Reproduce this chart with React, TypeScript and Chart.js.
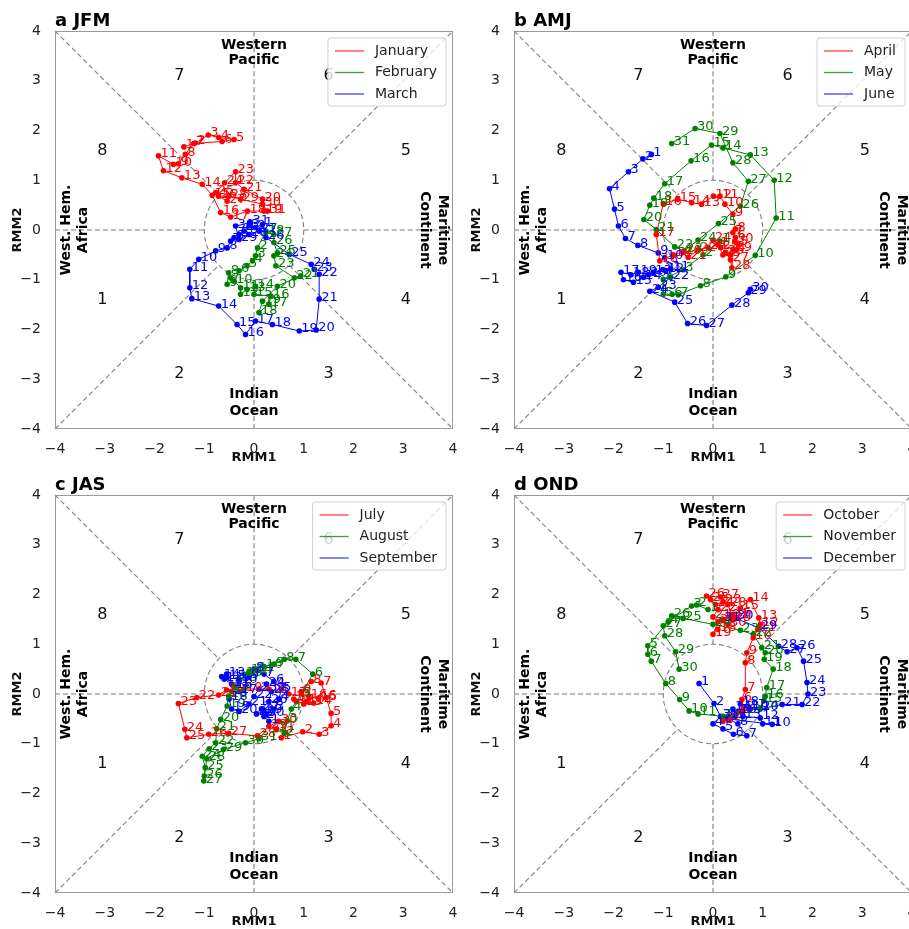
import React, { useEffect, useRef } from 'react';
import { Chart, registerables } from 'chart.js';
Chart.register(...registerables);

type P = [number, number];

const TICKS = [-4, -3, -2, -1, 0, 1, 2, 3, 4];
const TITLES = ['a JFM', 'b AMJ', 'c JAS', 'd OND'];
const MONTHS = [
  ['January', 'February', 'March'],
  ['April', 'May', 'June'],
  ['July', 'August', 'September'],
  ['October', 'November', 'December'],
];
const COLORS = ['#ff0000', '#008000', '#0000ff'];
const LEGEND_COLORS = ['rgba(255,0,0,0.75)', 'rgba(0,128,0,0.75)', 'rgba(0,0,255,0.75)'];
const PHASES = ['1', '2', '3', '4', '5', '6', '7', '8'];

// RMM1, RMM2 per day
const JAN: P[] = [[-1.41,1.67],[-1.18,1.75],[-0.92,1.91],[-0.71,1.86],[-0.40,1.82],[-0.64,1.78],[-1.21,1.74],[-1.38,1.52],[-1.52,1.33],[-1.62,1.32],[-1.92,1.49],[-1.82,1.19],[-1.45,1.05],[-1.04,0.92],[-0.84,0.70],[-0.67,0.35],[-0.47,0.26],[-0.13,0.38],[0.20,0.38],[0.17,0.62],[-0.20,0.82],[-0.37,0.95],[-0.37,1.17],[-0.59,0.95],[-0.77,0.75],[-0.71,0.68],[-0.54,0.58],[-0.51,0.68],[-0.27,0.62],[0.17,0.52],[0.27,0.38]];
const FEB: P[] = [[0.24,-0.02],[0.07,-0.36],[0.03,-0.52],[-0.03,-0.62],[-0.14,-0.72],[-0.30,-0.82],[-0.47,-0.96],[-0.51,-0.86],[-0.54,-1.09],[-0.40,-1.03],[-0.27,-1.16],[-0.27,-1.29],[-0.14,-1.19],[0.03,-1.13],[0.00,-1.29],[0.34,-1.33],[0.30,-1.49],[0.10,-1.66],[0.17,-1.43],[0.47,-1.13],[0.94,-0.92],[0.81,-0.96],[0.44,-0.72],[0.40,-0.52],[0.47,-0.46],[0.40,-0.25],[0.40,-0.09],[0.24,-0.05]];
const MAR: P[] = [[0.17,0.11],[0.03,0.05],[-0.10,0.08],[-0.20,-0.02],[-0.30,-0.09],[-0.40,-0.15],[-0.47,-0.22],[-0.54,-0.36],[-0.77,-0.42],[-1.11,-0.59],[-1.29,-0.79],[-1.29,-1.16],[-1.25,-1.38],[-0.71,-1.53],[-0.34,-1.90],[-0.17,-2.10],[0.03,-1.83],[0.37,-1.90],[0.91,-2.03],[1.25,-2.01],[1.31,-1.39],[1.31,-0.89],[1.21,-0.79],[1.15,-0.69],[0.71,-0.49],[0.24,-0.15],[0.10,-0.02],[-0.10,-0.09],[-0.30,-0.19],[-0.37,0.08],[-0.07,0.15]];

const APR: P[] = [[0.10,-0.30],[0.20,-0.50],[0.35,-0.50],[0.45,-0.40],[0.50,-0.28],[0.45,-0.15],[0.40,-0.05],[0.45,0.02],[0.40,0.32],[0.24,0.52],[0.14,0.68],[0.01,0.68],[-0.23,0.52],[-0.43,0.55],[-0.71,0.62],[-1.00,0.53],[-1.14,-0.09],[-1.07,-0.62],[-0.80,-0.50],[-0.60,-0.45],[-0.50,-0.55],[-0.30,-0.40],[-0.10,-0.35],[0.00,-0.20],[0.15,-0.35],[0.25,-0.45],[0.35,-0.60],[0.38,-0.76],[0.41,-0.39],[0.44,-0.22]];
const MAY: P[] = [[0.14,-0.22],[-0.20,-0.50],[-0.60,-0.80],[-1.00,-0.99],[-1.00,-1.29],[-0.82,-1.29],[-0.70,-1.30],[-0.25,-1.12],[0.26,-0.94],[0.85,-0.51],[1.27,0.24],[1.23,1.00],[0.75,1.51],[0.20,1.65],[-0.03,1.71],[-0.44,1.39],[-0.97,0.93],[-1.19,0.64],[-1.27,0.50],[-1.39,0.21],[-1.14,0.01],[-0.77,-0.34],[-0.58,-0.42],[-0.30,-0.20],[0.11,0.13],[0.55,0.48],[0.71,0.98],[0.40,1.35],[0.14,1.94],[-0.36,2.04],[-0.83,1.74]];
const JUN: P[] = [[-1.24,1.52],[-1.41,1.43],[-1.70,1.17],[-2.08,0.83],[-1.98,0.42],[-1.90,0.08],[-1.76,-0.17],[-1.51,-0.31],[-1.10,-0.46],[-0.97,-0.56],[-0.85,-0.78],[-0.95,-0.82],[-1.20,-0.85],[-1.40,-0.95],[-1.60,-1.05],[-1.80,-1.00],[-1.85,-0.85],[-1.65,-0.90],[-1.50,-0.85],[-1.30,-0.90],[-1.00,-0.80],[-0.85,-0.95],[-1.10,-1.15],[-1.27,-1.23],[-0.77,-1.45],[-0.51,-1.88],[-0.13,-1.92],[0.38,-1.51],[0.71,-1.26],[0.75,-1.19]];

const JUL: P[] = [[0.55,-0.88],[0.98,-0.76],[1.31,-0.81],[1.55,-0.64],[1.55,-0.39],[1.45,-0.07],[1.35,0.22],[1.15,0.25],[0.95,0.05],[1.05,-0.15],[0.80,-0.10],[0.85,-0.15],[1.00,-0.20],[1.20,-0.18],[1.30,-0.10],[1.10,-0.05],[0.70,0.00],[0.30,0.10],[-0.20,0.10],[-0.55,0.08],[-0.71,-0.02],[-1.15,-0.07],[-1.52,-0.19],[-1.39,-0.71],[-1.35,-0.88],[-0.91,-0.81],[-0.51,-0.79],[0.07,-0.84],[0.30,-0.65],[0.50,-0.55],[0.45,-0.70]];
const AUG: P[] = [[0.45,-0.72],[0.61,-0.79],[0.67,-0.54],[0.75,-0.30],[0.95,0.00],[1.18,0.40],[0.84,0.70],[0.61,0.70],[0.40,0.60],[0.20,0.55],[0.05,0.50],[-0.10,0.45],[-0.20,0.40],[0.00,0.46],[-0.30,0.30],[-0.40,0.15],[-0.45,0.05],[-0.51,-0.04],[-0.54,-0.24],[-0.67,-0.51],[-0.75,-0.70],[-0.77,-0.98],[-0.90,-1.10],[-1.04,-1.25],[-0.98,-1.48],[-1.00,-1.65],[-1.01,-1.75],[-0.95,-1.30],[-0.61,-1.11],[-0.17,-0.98],[0.10,-0.90]];
const SEP: P[] = [[0.30,-0.55],[0.20,-0.45],[0.40,-0.30],[0.50,-0.10],[0.55,0.10],[0.40,0.25],[0.20,0.40],[0.00,0.50],[-0.10,0.35],[-0.30,0.25],[-0.45,0.20],[-0.60,0.30],[-0.55,0.40],[-0.65,0.35],[-0.54,0.33],[-0.40,0.15],[-0.30,0.05],[-0.50,-0.10],[-0.45,-0.30],[-0.30,-0.35],[-0.10,-0.20],[0.00,-0.05],[0.10,0.10],[0.25,0.20],[0.35,0.05],[0.30,-0.15],[0.15,-0.30],[0.05,-0.40],[0.20,-0.35],[0.24,-0.41]];

const OCT: P[] = [[0.20,-0.55],[0.35,-0.50],[0.45,-0.45],[0.55,-0.35],[0.60,-0.30],[0.58,-0.11],[0.65,0.09],[0.65,0.63],[0.68,0.83],[0.81,1.13],[0.90,1.30],[0.95,1.40],[0.92,1.53],[0.75,1.90],[0.55,1.73],[0.40,1.60],[0.20,1.50],[0.10,1.30],[0.00,1.20],[0.10,1.45],[0.00,1.55],[0.10,1.70],[0.20,1.85],[0.05,1.80],[-0.05,1.90],[-0.13,1.97],[0.15,1.95],[0.30,1.80],[0.40,1.50],[0.30,1.40],[0.35,1.55]];
const NOV: P[] = [[-0.10,1.70],[-0.33,1.79],[-0.43,1.77],[-0.90,1.45],[-1.31,0.97],[-1.31,0.80],[-1.24,0.66],[-0.95,0.21],[-0.67,-0.11],[-0.48,-0.34],[-0.30,-0.40],[0.20,-0.45],[0.60,-0.35],[0.95,-0.28],[1.02,-0.14],[1.05,-0.05],[1.08,0.13],[1.21,0.50],[1.03,0.70],[1.05,0.83],[0.98,0.93],[0.81,1.20],[0.55,1.28],[0.00,1.40],[-0.60,1.52],[-0.83,1.57],[-1.00,1.37],[-0.97,1.17],[-0.75,0.85],[-0.68,0.50]];
const DEC: P[] = [[-0.28,0.21],[0.02,-0.19],[0.15,-0.45],[0.00,-0.60],[0.20,-0.70],[0.41,-0.81],[0.68,-0.84],[0.50,-0.60],[0.30,-0.50],[1.19,-0.61],[1.00,-0.60],[0.95,-0.48],[0.60,-0.45],[0.40,-0.30],[0.30,-0.45],[0.50,-0.35],[0.70,-0.25],[0.55,-0.20],[0.75,-0.30],[0.95,-0.30],[1.39,-0.21],[1.79,-0.21],[1.91,0.00],[1.89,0.23],[1.82,0.66],[1.69,0.93],[1.49,0.85],[1.32,0.96],[0.92,1.33],[0.44,1.53],[0.18,1.50]];

const SERIES: P[][][] = [
  [JAN, FEB, MAR],
  [APR, MAY, JUN],
  [JUL, AUG, SEP],
  [OCT, NOV, DEC],
];

const FONT = '"DejaVu Sans", sans-serif';
const fmt = (v: number) => (v < 0 ? '\u2212' + Math.abs(v) : String(v));

function makeBgPlugin() {
  return {
    id: 'mjoBg',
    beforeDatasetsDraw(chart: any) {
      const ctx = chart.ctx;
      const xs = (v: number) => chart.scales.x.getPixelForValue(v);
      const ys = (v: number) => chart.scales.y.getPixelForValue(v);
      ctx.save();
      ctx.strokeStyle = '#7f7f7f';
      ctx.lineWidth = 1.1;
      ctx.setLineDash([5, 3]);
      const r = Math.SQRT1_2;
      const segs: number[][] = [
        [-4, 0, -1, 0], [1, 0, 4, 0], [0, -4, 0, -1], [0, 1, 0, 4],
        [-4, -4, -r, -r], [r, r, 4, 4], [-4, 4, -r, r], [r, -r, 4, -4],
      ];
      for (const s of segs) {
        ctx.beginPath();
        ctx.moveTo(xs(s[0]), ys(s[1]));
        ctx.lineTo(xs(s[2]), ys(s[3]));
        ctx.stroke();
      }
      const cx = xs(0), cy = ys(0);
      const rx = xs(1) - cx, ry = cy - ys(1);
      ctx.beginPath();
      ctx.ellipse(cx, cy, rx, ry, 0, 0, Math.PI * 2);
      ctx.stroke();
      ctx.setLineDash([]);

      // phase numbers
      const pos: P[] = [[-3.05, -1.4], [-1.5, -2.9], [1.5, -2.9], [3.05, -1.4], [3.05, 1.6], [1.5, 3.1], [-1.5, 3.1], [-3.05, 1.6]];
      ctx.fillStyle = '#111';
      ctx.font = `16px ${FONT}`;
      ctx.textAlign = 'center';
      ctx.textBaseline = 'middle';
      PHASES.forEach((t, i) => ctx.fillText(t, xs(pos[i][0]), ys(pos[i][1])));

      // region labels
      ctx.fillStyle = '#000';
      ctx.font = `bold 14px ${FONT}`;
      ctx.fillText('Western', xs(0), ys(3.72));
      ctx.fillText('Pacific', xs(0), ys(3.40));
      ctx.fillText('Indian', xs(0), ys(-3.30));
      ctx.fillText('Ocean', xs(0), ys(-3.64));
      const rot = (t: string, x: number, a: number) => {
        ctx.save();
        ctx.translate(xs(x), ys(0));
        ctx.rotate(a);
        ctx.fillText(t, 0, 0);
        ctx.restore();
      };
      rot('West. Hem.', -3.78, -Math.PI / 2);
      rot('Africa', -3.42, -Math.PI / 2);
      rot('Maritime', 3.80, Math.PI / 2);
      rot('Continent', 3.44, Math.PI / 2);
      ctx.restore();
    },
  };
}

function makeFgPlugin(title: string, names: string[]) {
  return {
    id: 'mjoFg',
    afterDatasetsDraw(chart: any) {
      const ctx = chart.ctx;
      const ca = chart.chartArea;
      ctx.save();
      // day labels
      ctx.font = `13px ${FONT}`;
      ctx.textAlign = 'left';
      ctx.textBaseline = 'alphabetic';
      chart.data.datasets.forEach((ds: any, di: number) => {
        const meta = chart.getDatasetMeta(di);
        ctx.fillStyle = ds.borderColor;
        meta.data.forEach((el: any, i: number) => {
          ctx.fillText(String(i + 1), el.x + 2, el.y + 1.5);
        });
      });
      // frame
      ctx.strokeStyle = '#9a9a9a';
      ctx.lineWidth = 1;
      ctx.strokeRect(Math.round(ca.left) + 0.5, Math.round(ca.top) + 0.5, Math.round(ca.right - ca.left) - 1, Math.round(ca.bottom - ca.top) - 1);
      // legend
      ctx.font = `14px ${FONT}`;
      const tw = Math.max(...names.map((n) => ctx.measureText(n).width));
      const w = 47 + tw + 9;
      const h = 68;
      const left = ca.right - 7 - w;
      const top = ca.top + 7;
      ctx.beginPath();
      const rr = 3;
      ctx.moveTo(left + rr, top);
      ctx.arcTo(left + w, top, left + w, top + h, rr);
      ctx.arcTo(left + w, top + h, left, top + h, rr);
      ctx.arcTo(left, top + h, left, top, rr);
      ctx.arcTo(left, top, left + w, top, rr);
      ctx.closePath();
      ctx.fillStyle = 'rgba(255,255,255,0.8)';
      ctx.fill();
      ctx.strokeStyle = '#d0d0d0';
      ctx.lineWidth = 1;
      ctx.stroke();
      ctx.textBaseline = 'middle';
      names.forEach((n, i) => {
        const y = top + 13 + i * 21.5;
        ctx.strokeStyle = LEGEND_COLORS[i];
        ctx.lineWidth = 1.3;
        ctx.beginPath();
        ctx.moveTo(left + 7, y);
        ctx.lineTo(left + 36, y);
        ctx.stroke();
        ctx.fillStyle = '#222';
        ctx.fillText(n, left + 47, y);
      });
      // title
      ctx.fillStyle = '#000';
      ctx.font = `bold 18px ${FONT}`;
      ctx.textBaseline = 'alphabetic';
      ctx.fillText(title, ca.left, ca.top - 5);
      ctx.restore();
    },
  };
}

function Panel({ idx, left, top }: { idx: number; left: number; top: number }) {
  const ref = useRef<HTMLCanvasElement | null>(null);
  useEffect(() => {
    if (!ref.current) return;
    const names = MONTHS[idx];
    const chart = new Chart(ref.current, {
      type: 'scatter',
      data: {
        datasets: SERIES[idx].map((pts, i) => ({
          label: names[i],
          data: pts.map(([x, y]) => ({ x, y })),
          showLine: true,
          borderColor: COLORS[i],
          backgroundColor: COLORS[i],
          borderWidth: 1,
          pointRadius: 2.8,
          pointHoverRadius: 2.8,
          pointBorderWidth: 0,
          tension: 0,
        })),
      },
      options: {
        responsive: false,
        animation: false,
        maintainAspectRatio: false,
        layout: { padding: { top: 31, right: 17, bottom: 2, left: 0 } },
        plugins: {
          legend: { display: false },
          tooltip: { enabled: false },
        },
        scales: {
          x: {
            type: 'linear',
            min: -4,
            max: 4,
            afterBuildTicks: (s: any) => { s.ticks = TICKS.map((v) => ({ value: v })); },
            afterFit: (s: any) => { s.height = 39; },
            grid: { display: false },
            border: { display: false },
            ticks: {
              font: { family: FONT, size: 14 },
              color: '#222',
              padding: 4,
              maxRotation: 0,
              autoSkip: false,
              callback: (v: any) => fmt(Number(v)),
            },
            title: {
              display: true,
              text: 'RMM1',
              font: { family: FONT, size: 13, weight: 'bold' },
              color: '#111',
              padding: { top: 0, bottom: 3 },
            },
          },
          y: {
            type: 'linear',
            min: -4,
            max: 4,
            afterBuildTicks: (s: any) => { s.ticks = TICKS.map((v) => ({ value: v })); },
            afterFit: (s: any) => { s.width = 55; },
            grid: { display: false },
            border: { display: false },
            ticks: {
              font: { family: FONT, size: 14 },
              color: '#222',
              padding: 6,
              autoSkip: false,
              callback: (v: any) => fmt(Number(v)),
            },
            title: {
              display: true,
              text: 'RMM2',
              font: { family: FONT, size: 13, weight: 'bold' },
              color: '#111',
              padding: { top: 10, bottom: 0 },
            },
          },
        },
      } as any,
      plugins: [makeBgPlugin(), makeFgPlugin(TITLES[idx], names)],
    });
    return () => chart.destroy();
  }, [idx]);
  return (
    <canvas
      ref={ref}
      width={470}
      height={470}
      style={{ position: 'absolute', left, top, width: 470, height: 470 }}
    />
  );
}

export default function App() {
  return (
    <div
      style={{
        position: 'fixed',
        left: 0,
        top: 0,
        width: 909,
        height: 929,
        overflow: 'hidden',
        background: '#fff',
      }}
    >
      <Panel idx={0} left={0} top={0} />
      <Panel idx={1} left={459} top={0} />
      <Panel idx={2} left={0} top={464} />
      <Panel idx={3} left={459} top={464} />
    </div>
  );
}
